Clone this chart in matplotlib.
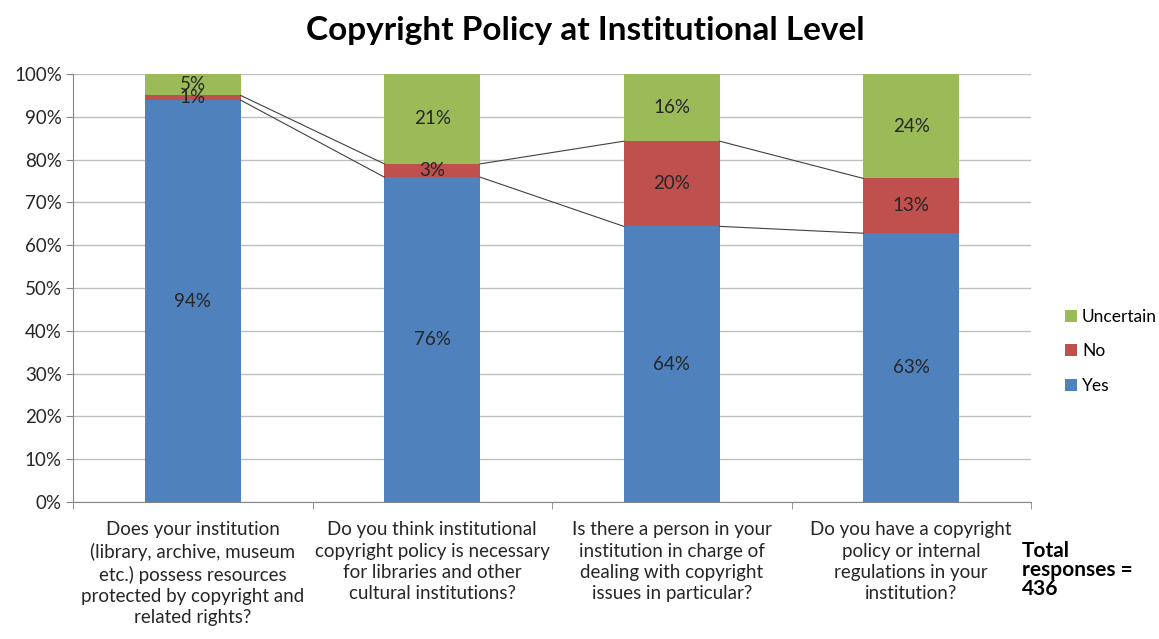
import matplotlib
matplotlib.use("Agg")
import matplotlib.pyplot as plt
import numpy as np

plt.rcParams['font.family'] = ['Lato', 'DejaVu Sans']

categories = [
    "Does your institution\n(library, archive, museum\netc.) possess resources\nprotected by copyright and\nrelated rights?",
    "Do you think institutional\ncopyright policy is necessary\nfor libraries and other\ncultural institutions?",
    "Is there a person in your\ninstitution in charge of\ndealing with copyright\nissues in particular?",
    "Do you have a copyright\npolicy or internal\nregulations in your\ninstitution?",
]
series_names = ["Yes", "No", "Uncertain"]
yes = [93.9, 75.9, 64.4, 62.8]
no = [1.1, 3.1, 19.9, 12.8]
uncertain = [5.0, 21.0, 15.7, 24.4]
yticks = list(range(0, 101, 10))
colors = ["#4F81BD", "#C0504D", "#9BBB59"]

fig = plt.figure(figsize=(11.59, 6.39), dpi=100)
ax = fig.add_axes([73 / 1159, 1 - 502 / 639, 958 / 1159, 428 / 639])

x = np.arange(len(categories))
width = 0.4
data = [yes, no, uncertain]
bottom = np.zeros(len(categories))
tops = []
for name, vals, c in zip(series_names, data, colors):
    vals = np.array(vals)
    ax.bar(x, vals, width, bottom=bottom, color=c, label=name, zorder=3)
    for xi, b, v in zip(x, bottom, vals):
        ax.text(xi, b + v / 2, f"{int(round(v))}%", ha='center', va='center',
                fontsize=13.5, color='#262626', zorder=5)
    bottom = bottom + vals
    tops.append(bottom.copy())

# series lines
for t in tops[:2]:
    for i in range(len(categories) - 1):
        ax.plot([x[i] + width / 2, x[i + 1] - width / 2], [t[i], t[i + 1]],
                color='#404040', lw=0.8, zorder=4)

ax.set_xlim(-0.5, 3.5)
ax.set_ylim(0, 100)
ax.set_yticks(yticks)
ax.set_yticklabels([f"{v}%" for v in yticks], fontsize=13.5, color='#262626')
ax.yaxis.grid(True, color='#BFBFBF', lw=1, zorder=0)
ax.set_axisbelow(True)
for s in ['top', 'right']:
    ax.spines[s].set_visible(False)
for s in ['left', 'bottom']:
    ax.spines[s].set_color('#868686')
ax.tick_params(axis='y', length=5, color='#868686', direction='out', pad=3)
ax.set_xticks(x)
ax.set_xticklabels(categories, fontsize=13.5, color='#262626', linespacing=1.3)
ax.tick_params(axis='x', length=0, pad=14)
ax.set_xticks(np.arange(-0.5, 4, 1), minor=True)
ax.tick_params(axis='x', which='minor', length=5, color='#868686', direction='out')

fig.text(0.505, 0.952, "Copyright Policy at Institutional Level", ha='center', va='center',
         fontsize=24, fontweight='bold', color='black')

handles, labels = ax.get_legend_handles_labels()
fig.legend(handles[::-1], labels[::-1], loc='center left', bbox_to_anchor=(0.905, 0.45),
           frameon=False, fontsize=12.5, handlelength=0.7, handleheight=0.7,
           handletextpad=0.3, labelspacing=1.05)

fig.text(0.882, 0.108, "Total\nresponses =\n436", ha='left', va='center', fontsize=15,
         fontweight='bold', color='black', linespacing=0.92)

fig.savefig("out.png", dpi=100)
